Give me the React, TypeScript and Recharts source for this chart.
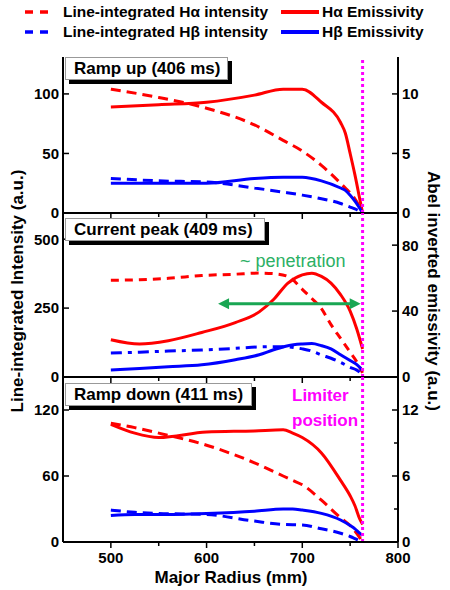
import React from "react";
import { ComposedChart, Line, XAxis, YAxis, ReferenceLine } from "recharts";

const RED = "#ff0000";
const BLUE = "#0000ff";
const MAGENTA = "#ff00ff";
const GREEN = "#19a653";
const FONT = "'Liberation Sans', Arial, sans-serif";

const LIMITER = 763;
const X_TICKS = [500, 550, 600, 650, 700, 750, 800];

// ramp up (406 ms)
const R1 = [500, 550, 600, 650, 680, 700, 720, 740, 745, 750, 755, 760, 763];
const HA_LI_1 = [104, 97, 88, 74, 61, 52, 40, 25, 21, 17, 12, 5, 0];
const HA_EM_1 = [8.9, 9.1, 9.3, 9.9, 10.4, 10.4, 9.3, 7.6, 6.7, 5.0, 3.2, 1.2, 0];
const HB_LI_1 = [29, 27, 26, 21, 17.5, 15, 12, 8, 6.5, 5, 3.5, 1.5, 0];
const HB_EM_1 = [2.5, 2.5, 2.5, 2.9, 3.0, 3.0, 2.7, 2.1, 1.9, 1.5, 1.0, 0.4, 0];

// current peak (409 ms)
const R2 = [500, 530, 560, 595, 630, 655, 670, 685, 700, 710, 720, 730, 740, 750, 757, 763];
const HA_LI_2 = [351, 353, 358, 368, 373, 377, 375, 365, 318, 285, 248, 190, 140, 90, 55, 15];
const HA_EM_2 = [22.6, 20, 22, 27, 33, 39.5, 47, 57, 62, 63, 61, 57, 50, 40, 29, 17];
const HB_LI_2 = [87, 90, 94, 98, 104, 109, 110, 109, 102, 94, 80, 68, 53, 35, 25, 8];
const HB_EM_2 = [4.3, 5.2, 6.2, 7.4, 10.5, 13.5, 16.5, 19, 20, 20.3, 19, 17, 13.5, 10, 7.5, 4];

// ramp down (411 ms)
const R3 = [500, 525, 550, 600, 650, 680, 690, 700, 720, 740, 750, 755, 760, 763];
const HA_LI_3 = [108, 104, 99, 88, 72, 60, 56, 52, 38, 22, 15, 10, 4, 0];
const HA_EM_3 = [10.7, 9.9, 9.5, 10.0, 10.1, 10.2, 9.9, 9.5, 8.1, 5.6, 4.2, 3.3, 2.1, 1.6];
const HB_LI_3 = [29, 27, 26, 25, 19, 16, 15.7, 15.5, 12, 8, 5, 3, 1, 0];
const HB_EM_3 = [2.4, 2.5, 2.5, 2.6, 2.8, 3.0, 3.0, 2.9, 2.6, 2.0, 1.5, 1.2, 0.8, 0.6];

const rows = (r: number[], haLi: number[], haEm: number[], hbLi: number[], hbEm: number[]) =>
  r.map((x, i) => ({ r: x, haLi: haLi[i], haEm: haEm[i], hbLi: hbLi[i], hbEm: hbEm[i] }));

type Panel = {
  label: string;
  boxTop: number;
  boxW: number;
  data: ReturnType<typeof rows>;
  top: number;
  height: number;
  leftMax: number;
  rightMax: number;
  leftTicks: number[];
  leftMajor: number[];
  rightTicks: number[];
  rightMajor: number[];
  showX: boolean;
  haDash: string;
  hbDash: string;
};

const panels: Panel[] = [
  {
    label: "Ramp up (406 ms)",
    boxTop: 57,
    boxW: 163,
    data: rows(R1, HA_LI_1, HA_EM_1, HB_LI_1, HB_EM_1),
    top: 57,
    height: 156,
    leftMax: 131,
    rightMax: 13.1,
    leftTicks: [0, 50, 100],
    leftMajor: [0, 50, 100],
    rightTicks: [0, 5, 10],
    rightMajor: [0, 5, 10],
    showX: false,
    haDash: "10 6",
    hbDash: "10 6",
  },
  {
    label: "Current peak (409 ms)",
    boxTop: 218,
    boxW: 200,
    data: rows(R2, HA_LI_2, HA_EM_2, HB_LI_2, HB_EM_2),
    top: 213,
    height: 164,
    leftMax: 595,
    rightMax: 99.5,
    leftTicks: [0, 250, 500],
    leftMajor: [0, 250, 500],
    rightTicks: [0, 40, 80],
    rightMajor: [0, 40, 80],
    showX: false,
    haDash: "8 6",
    hbDash: "11 6 4 6",
  },
  {
    label: "Ramp down (411 ms)",
    boxTop: 383,
    boxW: 187,
    data: rows(R3, HA_LI_3, HA_EM_3, HB_LI_3, HB_EM_3),
    top: 377,
    height: 165,
    leftMax: 150,
    rightMax: 15,
    leftTicks: [0, 60, 120],
    leftMajor: [0, 60, 120],
    rightTicks: [0, 3, 6, 9, 12],
    rightMajor: [0, 6, 12],
    showX: true,
    haDash: "10 6",
    hbDash: "10 6",
  },
];

const tickText = { fontFamily: FONT, fontWeight: 700, fontSize: 15, fill: "#000" };

function XTick(props: any) {
  const { x, y, payload, show } = props;
  const v = payload.value;
  const major = v % 100 === 0;
  return (
    <g>
      <line x1={x} x2={x} y1={y} y2={y + (major ? 6 : 4)} stroke="#000" strokeWidth={1.5} />
      {show && major && (
        <text x={x} y={y + 10} dy="0.75em" textAnchor="middle" {...tickText}>
          {v}
        </text>
      )}
    </g>
  );
}

function LeftTick(props: any) {
  const { x, y, payload, majors } = props;
  const major = majors.includes(payload.value);
  return (
    <g>
      <line x1={x} x2={x + (major ? 6 : 4)} y1={y} y2={y} stroke="#000" strokeWidth={1.5} />
      {major && (
        <text x={x - 4} y={y} dy="0.36em" textAnchor="end" {...tickText}>
          {payload.value}
        </text>
      )}
    </g>
  );
}

function RightTick(props: any) {
  const { x, y, payload, majors } = props;
  const major = majors.includes(payload.value);
  return (
    <g>
      <line x1={x} x2={x - (major ? 6 : 4)} y1={y} y2={y} stroke="#000" strokeWidth={1.5} />
      {major && (
        <text x={x + 4} y={y} dy="0.36em" textAnchor="start" {...tickText}>
          {payload.value}
        </text>
      )}
    </g>
  );
}

function Arrow(props: any) {
  const { x1, y1, x2, y2 } = props;
  const h = 11;
  const w = 5.5;
  return (
    <g>
      <line x1={x1 + h - 2} y1={y1} x2={x2 - h + 2} y2={y2} stroke={GREEN} strokeWidth={3} />
      <polygon points={`${x1},${y1} ${x1 + h},${y1 - w} ${x1 + h},${y1 + w}`} fill={GREEN} />
      <polygon points={`${x2},${y2} ${x2 - h},${y2 - w} ${x2 - h},${y2 + w}`} fill={GREEN} />
    </g>
  );
}

const axisLine = { stroke: "#000", strokeWidth: 2 };

function PanelChart({ p, arrow }: { p: Panel; arrow?: boolean }) {
  const xH = p.showX ? 30 : 8;
  return (
    <div style={{ position: "absolute", left: 0, top: p.top - 2 }}>
      <ComposedChart
        width={450}
        height={p.height + 2 + xH}
        data={p.data}
        margin={{ top: 2, right: 12, bottom: 0, left: 23 }}
      >
        <XAxis
          xAxisId="top"
          orientation="top"
          type="number"
          domain={[450, 800]}
          height={0}
          tick={false}
          tickLine={false}
          axisLine={axisLine}
        />
        <XAxis
          dataKey="r"
          type="number"
          domain={[450, 800]}
          ticks={X_TICKS}
          interval={0}
          height={xH}
          tickSize={0}
          tickMargin={0}
          tickLine={false}
          axisLine={axisLine}
          allowDataOverflow
          tick={(tp: any) => <XTick {...tp} show={p.showX} />}
        />
        <YAxis
          yAxisId="left"
          width={40}
          domain={[0, p.leftMax]}
          ticks={p.leftTicks}
          interval={0}
          tickSize={0}
          tickMargin={0}
          tickLine={false}
          axisLine={axisLine}
          allowDataOverflow
          tick={(tp: any) => <LeftTick {...tp} majors={p.leftMajor} />}
        />
        <YAxis
          yAxisId="right"
          orientation="right"
          width={40}
          domain={[0, p.rightMax]}
          ticks={p.rightTicks}
          interval={0}
          tickSize={0}
          tickMargin={0}
          tickLine={false}
          axisLine={axisLine}
          allowDataOverflow
          tick={(tp: any) => <RightTick {...tp} majors={p.rightMajor} />}
        />
        <Line yAxisId="left" type="monotone" dataKey="haLi" stroke={RED} strokeWidth={3} strokeDasharray={p.haDash} dot={false} isAnimationActive={false} />
        <Line yAxisId="left" type="monotone" dataKey="hbLi" stroke={BLUE} strokeWidth={3} strokeDasharray={p.hbDash} dot={false} isAnimationActive={false} />
        <Line yAxisId="right" type="monotone" dataKey="haEm" stroke={RED} strokeWidth={3} dot={false} isAnimationActive={false} />
        <Line yAxisId="right" type="monotone" dataKey="hbEm" stroke={BLUE} strokeWidth={3} dot={false} isAnimationActive={false} />
        {arrow && (
          <ReferenceLine
            yAxisId="right"
            segment={[
              { x: 612, y: 44.5 },
              { x: 761, y: 44.5 },
            ]}
            shape={Arrow}
          />
        )}
        <ReferenceLine yAxisId="left" x={LIMITER} stroke={MAGENTA} strokeWidth={3} strokeDasharray="3 3" />
      </ComposedChart>
    </div>
  );
}

const bold = { fontFamily: FONT, fontWeight: 700, color: "#000" } as const;

function LegendRow({ y, dashed, color, left, right }: { y: number; dashed: string; color: string; left: string; right: string }) {
  return (
    <>
      <svg style={{ position: "absolute", left: 25, top: y - 3 }} width={24} height={6}>
        <line x1={0} y1={3} x2={24} y2={3} stroke={color} strokeWidth={3.5} strokeDasharray={dashed} />
      </svg>
      <div style={{ ...bold, position: "absolute", left: 63, top: y - 10, fontSize: 15.5, lineHeight: "20px", whiteSpace: "nowrap" }}>{left}</div>
      <svg style={{ position: "absolute", left: 281, top: y - 3 }} width={38} height={6}>
        <line x1={0} y1={3} x2={38} y2={3} stroke={color} strokeWidth={4} />
      </svg>
      <div style={{ ...bold, position: "absolute", left: 322, top: y - 10, fontSize: 15.5, lineHeight: "20px", whiteSpace: "nowrap" }}>{right}</div>
    </>
  );
}

export default function App() {
  return (
    <div style={{ position: "absolute", left: 0, top: 0, width: 450, height: 590, background: "#fff", overflow: "hidden" }}>
      <LegendRow y={12} dashed="8 7" color={RED} left="Line-integrated Hα intensity" right="Hα Emissivity" />
      <LegendRow y={32} dashed="8 7" color={BLUE} left="Line-integrated Hβ intensity" right="Hβ Emissivity" />

      {panels.map((p, i) => (
        <PanelChart key={i} p={p} arrow={i === 1} />
      ))}

      {panels.map((p, i) => (
        <div
          key={"lbl" + i}
          style={{
            ...bold,
            position: "absolute",
            left: 65,
            top: p.boxTop,
            width: p.boxW,
            height: 23,
            boxSizing: "border-box",
            background: "#fff",
            border: "1px solid #999",
            boxShadow: "4px 4px 0 #000",
            fontSize: 17,
            lineHeight: "21px",
            paddingLeft: 8,
            whiteSpace: "nowrap",
          }}
        >
          {p.label}
        </div>
      ))}

      <div style={{ position: "absolute", left: 240, top: 250, fontFamily: FONT, fontSize: 18, lineHeight: "22px", color: "#2bb065", whiteSpace: "nowrap" }}>
        ~ penetration
      </div>
      <div style={{ ...bold, position: "absolute", left: 292, top: 383, fontSize: 17, lineHeight: "25px", color: MAGENTA }}>
        Limiter
        <br />
        position
      </div>

      <div
        style={{
          ...bold,
          position: "absolute",
          left: 18,
          top: 291,
          fontSize: 17,
          whiteSpace: "nowrap",
          transform: "translate(-50%, -50%) rotate(-90deg)",
        }}
      >
        Line-integrated Intensity (a.u.)
      </div>
      <div
        style={{
          ...bold,
          position: "absolute",
          left: 433,
          top: 291,
          fontSize: 17,
          whiteSpace: "nowrap",
          transform: "translate(-50%, -50%) rotate(90deg)",
        }}
      >
        Abel inverted emissivity (a.u.)
      </div>
      <div
        style={{
          ...bold,
          position: "absolute",
          left: 231,
          top: 578,
          fontSize: 17,
          whiteSpace: "nowrap",
          transform: "translate(-50%, -50%)",
        }}
      >
        Major Radius (mm)
      </div>
    </div>
  );
}
